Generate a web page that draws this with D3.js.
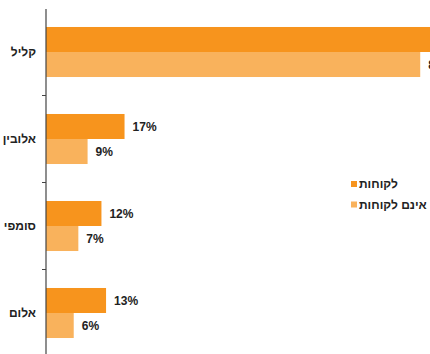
<!DOCTYPE html>
<html>
<head>
<meta charset="utf-8">
<script src="https://cdn.jsdelivr.net/npm/d3@7"></script>
<style>
  body { margin: 0; background: #fff; overflow: hidden; }
  text { font-family: "Liberation Sans", Arial, sans-serif; font-weight: bold; fill: #222; }
</style>
</head>
<body>
<script>
var categories = ["קליל", "אלובין", "סומפי", "אלום"];
var seriesNames = ["לקוחות", "אינם לקוחות"];
var customers = [90, 17, 12, 13];
var nonCustomers = [81, 9, 7, 6];
var colors = ["#F7941D", "#F9B25C"];

var width = 430, height = 354;
var axisX = 46;

var svg = d3.select("body").append("svg")
    .attr("width", width)
    .attr("height", height);

var rows = categories.map(function (c, i) {
    return {cat: c, values: [customers[i], nonCustomers[i]]};
});

var y = d3.scaleBand().domain(categories).range([8.5, 356.5])
    .paddingInner(0.425).paddingOuter(0.2125);
var ySub = d3.scaleBand().domain([0, 1]).range([0, y.bandwidth()]);
var x = d3.scaleLinear().domain([0, 100]).range([axisX, axisX + 462]);

var group = svg.selectAll("g.row")
    .data(rows)
    .enter().append("g")
    .attr("class", "row")
    .attr("transform", function (d) { return "translate(0," + y(d.cat) + ")"; });

group.selectAll("rect")
    .data(function (d) { return d.values; })
    .enter().append("rect")
    .attr("x", x(0))
    .attr("y", function (d, i) { return ySub(i); })
    .attr("width", function (d) { return x(d) - x(0); })
    .attr("height", ySub.bandwidth())
    .style("fill", function (d, i) { return colors[i]; });

group.selectAll("text.val")
    .data(function (d) { return d.values; })
    .enter().append("text")
    .attr("class", "val")
    .attr("x", function (d) { return x(d) + 8; })
    .attr("y", function (d, i) { return ySub(i) + ySub.bandwidth() / 2; })
    .attr("dy", "0.36em")
    .style("font-size", "12px")
    .text(function (d) { return d + "%"; });

// axis
var axis = svg.append("g")
    .attr("transform", "translate(" + axisX + ",0)")
    .call(d3.axisLeft(y).tickSize(0).tickPadding(10));
axis.select(".domain").remove();
axis.selectAll("text")
    .style("font-size", "12px")
    .style("font-family", "'Liberation Sans', Arial, sans-serif");

svg.append("line")
    .attr("x1", axisX).attr("x2", axisX)
    .attr("y1", 9).attr("y2", height)
    .style("stroke", "#444").style("stroke-width", 1.2);

var step = y.step();
svg.selectAll("line.tick")
    .data(categories.slice(1))
    .enter().append("line")
    .attr("class", "tick")
    .attr("x1", axisX - 4).attr("x2", axisX)
    .attr("y1", function (c) { return y(c) - step * y.paddingInner() / 2; })
    .attr("y2", function (c) { return y(c) - step * y.paddingInner() / 2; })
    .style("stroke", "#444").style("stroke-width", 1);

// legend
var legend = svg.selectAll("g.legend")
    .data(seriesNames)
    .enter().append("g")
    .attr("class", "legend")
    .attr("transform", function (d, i) { return "translate(351," + (181 + i * 20.5) + ")"; });

legend.append("rect")
    .attr("width", 6).attr("height", 6)
    .style("fill", function (d, i) { return colors[i]; });

legend.append("text")
    .attr("x", 8).attr("y", 3)
    .attr("dy", "0.36em")
    .style("font-size", "12px")
    .text(function (d) { return d; });
</script>
</body>
</html>
